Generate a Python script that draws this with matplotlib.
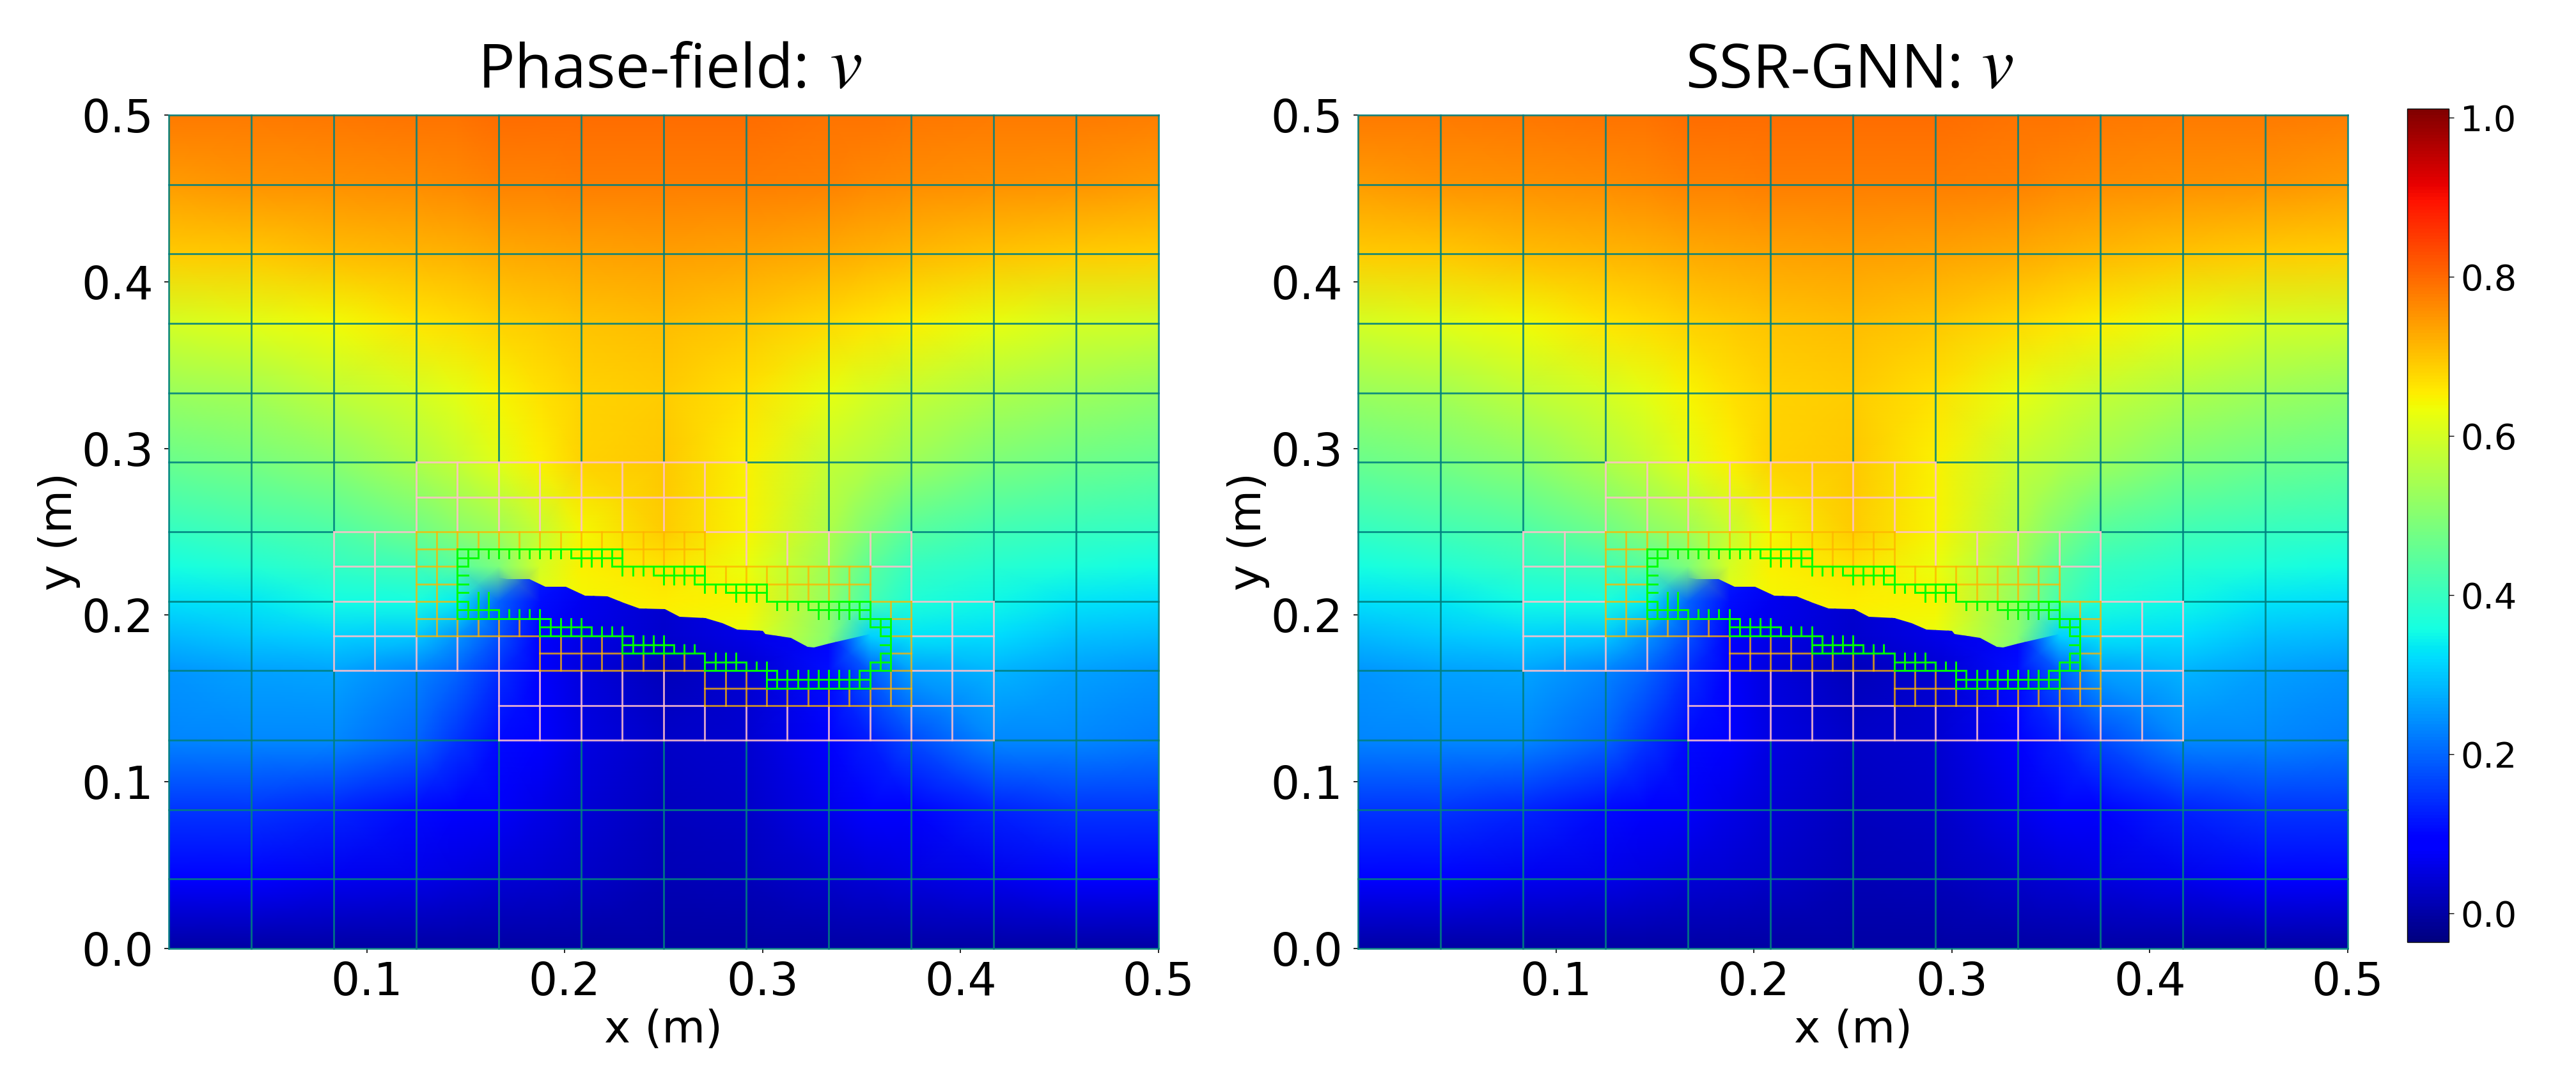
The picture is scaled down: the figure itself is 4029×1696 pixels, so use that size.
import numpy as np
import matplotlib
matplotlib.use("Agg")
import matplotlib.pyplot as plt
from matplotlib.collections import LineCollection
from matplotlib.cm import ScalarMappable
from matplotlib.colors import Normalize
from matplotlib.patches import Polygon

plt.rcParams['font.family'] = ['DejaVu Sans']

# field, rows go from y = 0.5 down to y = 0
x_nodes = [0, .0417, .0833, .125, .1458, .1667, .1875, .2083, .25, .2917, .3333, .3542, .375, .4167, .4583, .5]
y_nodes = [.5, .4583, .4167, .375, .3333, .2917, .25, .2292, .2083, .1875, .1667, .125, .0833, .0417, 0]
v_field = [
    [.78, .78, .785, .79, .79, .795, .795, .795, .795, .795, .79, .79, .785, .78, .78, .775],
    [.745, .75, .755, .76, .765, .77, .77, .775, .775, .775, .77, .765, .76, .755, .75, .745],
    [.69, .695, .705, .715, .72, .725, .73, .735, .74, .735, .725, .72, .71, .70, .69, .685],
    [.60, .615, .635, .66, .67, .68, .69, .70, .705, .695, .675, .66, .65, .625, .60, .59],
    [.525, .54, .57, .60, .62, .645, .665, .68, .69, .665, .625, .60, .58, .55, .53, .515],
    [.465, .48, .505, .55, .58, .615, .65, .68, .695, .65, .58, .555, .53, .49, .47, .455],
    [.395, .41, .43, .47, .50, .53, .58, .64, .69, .645, .55, .49, .44, .41, .40, .39],
    [.36, .375, .395, .41, .44, .49, .60, .65, .665, .63, .53, .45, .40, .38, .365, .355],
    [.325, .335, .355, .36, .34, .20, .62, .64, .655, .645, .52, .42, .37, .35, .33, .32],
    [.285, .30, .31, .30, .25, .18, .60, .62, .64, .63, .50, .31, .33, .32, .295, .285],
    [.25, .26, .265, .23, .20, .14, .60, .60, .62, .60, .48, .19, .26, .28, .26, .25],
    [.23, .235, .235, .20, .15, .105, .08, .055, .03, .04, .085, .125, .17, .235, .235, .225],
    [.15, .15, .135, .105, .09, .075, .06, .045, .025, .03, .065, .08, .095, .13, .15, .15],
    [.08, .08, .07, .06, .05, .045, .04, .03, .015, .02, .035, .045, .05, .065, .08, .08],
    [0, 0, 0, 0, 0, 0, 0, 0, 0, 0, 0, 0, 0, 0, 0, 0],
]

# the part under the crack
x_low = [.1667, .1875, .2083, .25, .2917, .3333, .3542]
y_low = [.25, .2292, .2083, .1875, .1667, .125]
v_low = [
    [.53, .13, .09, .05, .08, .12, .49],
    [.49, .13, .08, .05, .07, .11, .45],
    [.20, .11, .07, .04, .07, .10, .42],
    [.18, .095, .06, .035, .06, .10, .31],
    [.14, .09, .05, .02, .04, .11, .19],
    [.105, .08, .055, .03, .04, .085, .125],
]

crack_x = [.1667, .1710, .1823, .1903, .2006, .2103, .2216, .2296, .2377, .2506, .2581, .2711, .2797,
           .2871, .3001, .3013, .3142, .3227, .3259, .3333, .3542]
crack_y = [.2225, .2217, .2217, .2169, .2169, .2118, .2111, .2073, .2041, .2037, .1990, .1984, .1952,
           .1913, .1907, .1888, .1862, .1811, .1807, .1829, .1885]

# mesh lines in units of the finest cell, 1/192 m
# horizontal: (j, i0, i1), vertical: (i, j0, j1)
h_level0 = [(96, 0, 96), (88, 0, 96), (80, 0, 96), (72, 0, 96), (64, 0, 96), (56, 0, 24), (56, 56, 96),
            (48, 0, 16), (48, 72, 96), (40, 0, 16), (40, 80, 96), (32, 0, 16), (32, 80, 96),
            (24, 0, 32), (24, 80, 96), (16, 0, 96), (8, 0, 96), (0, 0, 96)]
v_level0 = [(0, 0, 96), (8, 0, 96), (16, 0, 32), (16, 48, 96), (24, 0, 32), (24, 56, 96),
            (32, 0, 24), (32, 56, 96), (40, 0, 24), (40, 56, 96), (48, 0, 24), (48, 56, 96),
            (56, 0, 24), (56, 56, 96), (64, 0, 24), (64, 48, 96), (72, 0, 24), (72, 48, 96),
            (80, 0, 24), (80, 40, 96), (88, 0, 96), (96, 0, 96)]

h_level1 = [(56, 24, 56), (52, 24, 56), (48, 16, 24), (48, 52, 72), (44, 16, 24), (44, 68, 72),
            (40, 16, 24), (40, 72, 80), (36, 16, 24), (36, 72, 80), (32, 16, 36), (32, 72, 80),
            (28, 32, 52), (28, 72, 80), (24, 32, 80)]
v_level1 = [(16, 32, 48), (20, 32, 48), (24, 48, 56), (24, 32, 36), (28, 48, 56), (28, 32, 36),
            (32, 48, 56), (32, 24, 36), (36, 48, 56), (36, 24, 32), (40, 48, 56), (40, 24, 32),
            (44, 48, 56), (44, 24, 32), (48, 48, 56), (48, 24, 32), (52, 48, 56), (52, 24, 28),
            (56, 44, 56), (56, 24, 28), (60, 44, 48), (60, 24, 28), (64, 44, 48), (64, 24, 28),
            (68, 44, 48), (68, 24, 28), (72, 40, 48), (72, 24, 28), (76, 24, 40), (80, 24, 40)]

h_level2 = [(48, 24, 52), (46, 24, 28), (46, 44, 52), (44, 24, 28), (44, 52, 68), (42, 24, 28), (42, 58, 68),
            (40, 24, 28), (40, 68, 72), (38, 24, 28), (38, 70, 72), (36, 24, 36), (36, 70, 72),
            (34, 36, 44), (34, 70, 72), (32, 36, 52), (32, 70, 72), (30, 52, 58), (30, 68, 72), (28, 52, 72)]
v_level2 = [(24, 36, 48), (26, 36, 48), (28, 46, 48), (28, 36, 38), (30, 46, 48), (30, 36, 38), (32, 46, 48),
            (32, 36, 38), (34, 46, 48), (34, 36, 38), (36, 46, 48), (36, 32, 36), (38, 46, 48), (38, 32, 36),
            (40, 46, 48), (40, 32, 36), (42, 46, 48), (42, 32, 36), (44, 46, 48), (44, 32, 34), (46, 44, 48),
            (46, 32, 34), (48, 44, 48), (48, 32, 34), (50, 44, 48), (50, 32, 34), (52, 44, 48), (52, 28, 32),
            (54, 42, 44), (54, 28, 32), (56, 42, 44), (56, 28, 32), (58, 42, 44), (58, 28, 30), (60, 40, 44),
            (60, 28, 30), (62, 40, 44), (62, 28, 30), (64, 40, 44), (64, 28, 30), (66, 40, 44), (66, 28, 30),
            (68, 40, 44), (68, 28, 30), (70, 38, 40), (70, 28, 32), (72, 28, 40)]

h_level3 = [(46, 28, 44), (45, 28, 30), (45, 39, 44), (44, 28, 29), (44, 43, 52), (43, 28, 29), (43, 47, 52),
            (42, 28, 29), (42, 51, 58), (41, 28, 29), (41, 54, 58), (40, 28, 29), (40, 58, 68), (39, 28, 32),
            (39, 62, 68), (38, 28, 37), (38, 67, 70), (37, 36, 41), (37, 68, 70), (36, 36, 45), (36, 69, 70),
            (35, 44, 49), (35, 69, 70), (34, 44, 52), (34, 69, 70), (33, 52, 56), (33, 68, 70), (32, 52, 59),
            (32, 67, 70), (31, 58, 68), (30, 58, 68)]
v_level3 = [(28, 38, 46), (29, 44, 46), (29, 38, 40), (30, 45, 46), (30, 38, 41), (31, 45, 46), (31, 38, 41),
            (32, 45, 46), (32, 38, 39), (33, 45, 46), (33, 38, 39), (34, 45, 46), (34, 38, 39), (35, 45, 46),
            (35, 38, 39), (36, 45, 46), (36, 36, 39), (37, 45, 46), (37, 36, 38), (38, 45, 46), (38, 36, 38),
            (39, 45, 46), (39, 36, 38), (40, 44, 46), (40, 36, 38), (41, 44, 46), (41, 36, 37), (42, 44, 46),
            (42, 36, 37), (43, 44, 46), (43, 36, 37), (44, 43, 46), (44, 34, 37), (45, 43, 44), (45, 34, 36),
            (46, 43, 44), (46, 34, 36), (47, 43, 44), (47, 34, 36), (48, 42, 44), (48, 34, 36), (49, 42, 44),
            (49, 34, 35), (50, 42, 44), (50, 34, 35), (51, 42, 44), (51, 34, 35), (52, 41, 44), (52, 32, 34),
            (53, 41, 42), (53, 32, 34), (54, 41, 42), (54, 32, 34), (55, 40, 42), (55, 32, 34), (56, 40, 42),
            (56, 32, 33), (57, 40, 42), (57, 32, 33), (58, 40, 42), (58, 30, 33), (59, 39, 40), (59, 30, 32),
            (60, 39, 40), (60, 30, 32), (61, 39, 40), (61, 30, 32), (62, 39, 40), (62, 30, 32), (63, 38, 40),
            (63, 30, 32), (64, 38, 40), (64, 30, 32), (65, 38, 40), (65, 30, 32), (66, 38, 40), (66, 30, 32),
            (67, 38, 40), (67, 30, 32), (68, 37, 40), (68, 30, 33), (69, 36, 38), (69, 32, 34), (70, 32, 38)]

titles = ["Phase-field:", "SSR-GNN:"]
xticks = [0.1, 0.2, 0.3, 0.4, 0.5]
yticks = [0.0, 0.1, 0.2, 0.3, 0.4, 0.5]
cbar_ticks = [0.0, 0.2, 0.4, 0.6, 0.8, 1.0]
vmin, vmax = -0.036, 1.011
W, H = 4030, 1696


def draw_mesh(ax, h_segs, v_segs, color, alpha):
    segs = [[(a / 192, j / 192), (b / 192, j / 192)] for j, a, b in h_segs]
    segs += [[(i / 192, a / 192), (i / 192, b / 192)] for i, a, b in v_segs]
    lines = LineCollection(segs, colors=color, linewidths=2.1, alpha=alpha, capstyle='projecting', clip_on=False)
    ax.add_collection(lines)


def draw_panel(left, title, title_px, v_px):
    ax = fig.add_axes([left / W, 1 - 1484 / H, 1548 / W, 1304 / H])
    ax.pcolormesh(x_nodes, y_nodes[::-1], np.array(v_field)[::-1], shading='gouraud', cmap='jet', vmin=vmin, vmax=vmax)
    low = ax.pcolormesh(x_low, y_low[::-1], np.array(v_low)[::-1], shading='gouraud', cmap='jet', vmin=vmin, vmax=vmax)
    outline = list(zip(crack_x, crack_y)) + [(crack_x[-1], y_low[-1]), (crack_x[0], y_low[-1])]
    clip = Polygon(outline, closed=True, transform=ax.transData)
    low.set_clip_path(clip)

    draw_mesh(ax, h_level0, v_level0, 'teal', 0.85)
    draw_mesh(ax, h_level1, v_level1, 'pink', 0.85)
    draw_mesh(ax, h_level2, v_level2, '#ffb400', 0.75)
    draw_mesh(ax, h_level3, v_level3, 'lime', 1)

    ax.set_xlim(0, 0.5)
    ax.set_ylim(0, 0.5)
    ax.set_xticks(xticks)
    ax.set_yticks(yticks)
    ax.set_xticklabels(['%.1f' % t for t in xticks])
    ax.set_yticklabels(['%.1f' % t for t in yticks])
    ax.tick_params(labelsize=51, length=5, width=1.2, pad=12)
    ax.tick_params(axis='x', pad=9)
    for s in ax.spines.values():
        s.set_visible(False)
    ax.set_xlabel("x (m)", fontsize=50, labelpad=4)
    ax.set_ylabel("y (m)", fontsize=50, labelpad=1)
    # title and the italic v are separate because v is much larger in the original
    fig.text(title_px / W, 1 - 137 / H, title, fontsize=69, family='Open Sans', ha='left', va='baseline')
    fig.text(v_px / W, 1 - 137 / H, "v", fontsize=83, family='STIXGeneral', style='italic', ha='left', va='baseline')
    return ax


fig = plt.figure(figsize=(W / 100, H / 100), dpi=100, facecolor='white')
draw_panel(264, titles[0], 748, 1298)
draw_panel(2124, titles[1], 2636, 3099)

cax = fig.add_axes([3765 / W, 1 - 1474 / H, 65 / W, 1304 / H])
cb = fig.colorbar(ScalarMappable(Normalize(vmin, vmax), cmap='jet'), cax=cax, ticks=cbar_ticks)
cb.ax.set_yticklabels(['%.1f' % t for t in cbar_ticks])
cb.ax.tick_params(labelsize=40, length=6, width=1, pad=7)
cb.outline.set_linewidth(1)

fig.savefig("out.png", dpi=100)
